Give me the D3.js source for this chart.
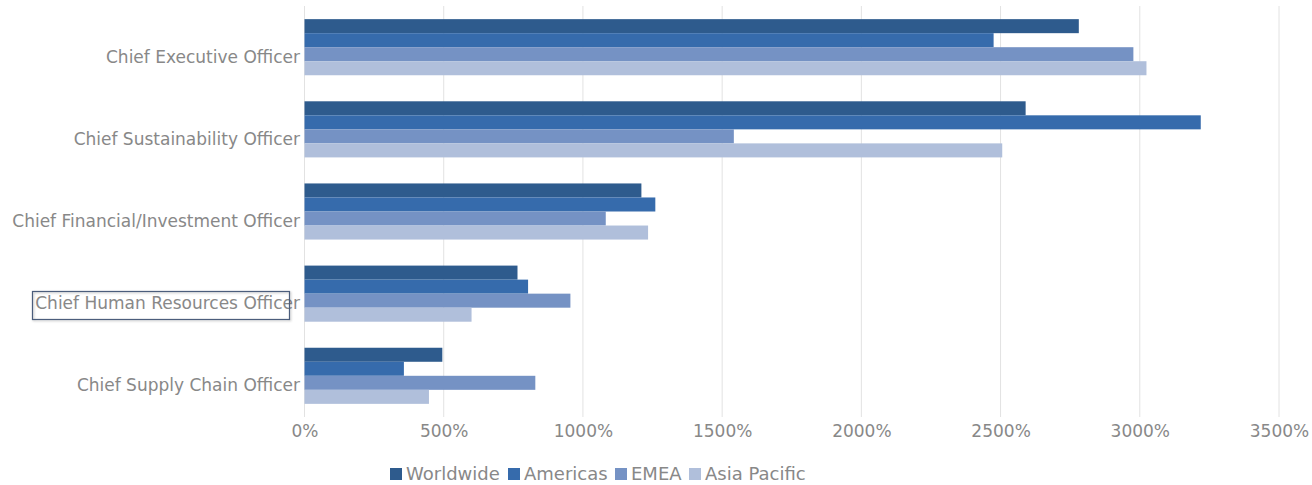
<!DOCTYPE html>
<html>
<head>
<meta charset="utf-8">
<script src="https://cdn.jsdelivr.net/npm/d3@7"></script>
<style>
  body { margin: 0; background: #fff; }
  text { font-family: "DejaVu Sans", sans-serif; fill: #888888; }
</style>
</head>
<body>
<script>
// chart values
var roles = ['Chief Executive Officer', 'Chief Sustainability Officer',
    'Chief Financial/Investment Officer', 'Chief Human Resources Officer',
    'Chief Supply Chain Officer'];
var regions = ['Worldwide', 'Americas', 'EMEA', 'Asia Pacific'];
var worldwide = [2781, 2590, 1210, 765, 495];
var americas = [2475, 3219, 1260, 803, 357];
var emea = [2977, 1542, 1082, 955, 829];
var asiaPacific = [3024, 2506, 1234, 600, 447];
var ticks = [0, 500, 1000, 1500, 2000, 2500, 3000, 3500];
var colors = ['#2e5b8d', '#366bac', '#7592c4', '#b0bfdb'];

var series = [worldwide, americas, emea, asiaPacific];

var width = 1312;
var height = 485;
var svg = d3.select('body').append('svg')
    .attr('width', width)
    .attr('height', height);

var x = d3.scaleLinear().domain([0, 3500]).range([304.5, 1279]);
var y = d3.scaleBand().domain(roles).range([6, 417]).paddingInner(0.317).paddingOuter(0.16);
var ySub = d3.scaleBand().domain(regions).range([0, y.bandwidth()]);

// grid
svg.append('g').selectAll('line')
    .data(ticks)
    .enter().append('line')
    .attr('x1', function(d) { return x(d); })
    .attr('x2', function(d) { return x(d); })
    .attr('y1', 6)
    .attr('y2', 417)
    .attr('stroke', '#e2e2e2')
    .attr('stroke-width', 1);

// bars
var groups = svg.append('g').selectAll('g')
    .data(roles)
    .enter().append('g')
    .attr('transform', function(d) { return 'translate(0,' + y(d) + ')'; });

groups.each(function(role, i) {
    d3.select(this).selectAll('rect')
        .data(regions)
        .enter().append('rect')
        .attr('x', x(0))
        .attr('y', function(r) { return ySub(r); })
        .attr('height', ySub.bandwidth())
        .attr('width', function(r, j) { return x(series[j][i]) - x(0); })
        .attr('fill', function(r, j) { return colors[j]; });
});

// x axis
var xAxis = d3.axisBottom(x).tickValues(ticks)
    .tickFormat(function(d) { return d + '%'; })
    .tickSize(0).tickPadding(8);
var ax = svg.append('g').attr('transform', 'translate(0,417)').call(xAxis);
ax.select('.domain').remove();
ax.selectAll('text').style('font-size', '17px').attr('fill', '#888888')
    .style('font-family', '"DejaVu Sans", sans-serif');

// category labels
svg.append('g').selectAll('text')
    .data(roles)
    .enter().append('text')
    .attr('x', 300)
    .attr('y', function(d) { return y(d) + y.bandwidth() / 2 + 9.5; })
    .attr('dy', '0.35em')
    .attr('text-anchor', 'end')
    .style('font-size', '17px')
    .text(function(d) { return d; });

// the selection box around one label
svg.append('rect')
    .attr('x', 32.5)
    .attr('y', 291.5)
    .attr('width', 257)
    .attr('height', 28)
    .attr('fill', 'none')
    .attr('stroke', '#4b5d7c')
    .attr('stroke-width', 1.2)
    .style('filter', 'drop-shadow(1px 1px 1px rgba(0,0,0,0.25))');

// legend
var legendX = [390, 508, 615, 689];
var legend = svg.append('g').selectAll('g')
    .data(regions)
    .enter().append('g')
    .attr('transform', function(d, i) { return 'translate(' + legendX[i] + ',468)'; });
legend.append('rect')
    .attr('width', 12)
    .attr('height', 12)
    .attr('fill', function(d, i) { return colors[i]; });
legend.append('text')
    .attr('x', 16)
    .attr('y', 6)
    .attr('dy', '0.35em')
    .style('font-size', '18px')
    .text(function(d) { return d; });
</script>
</body>
</html>
